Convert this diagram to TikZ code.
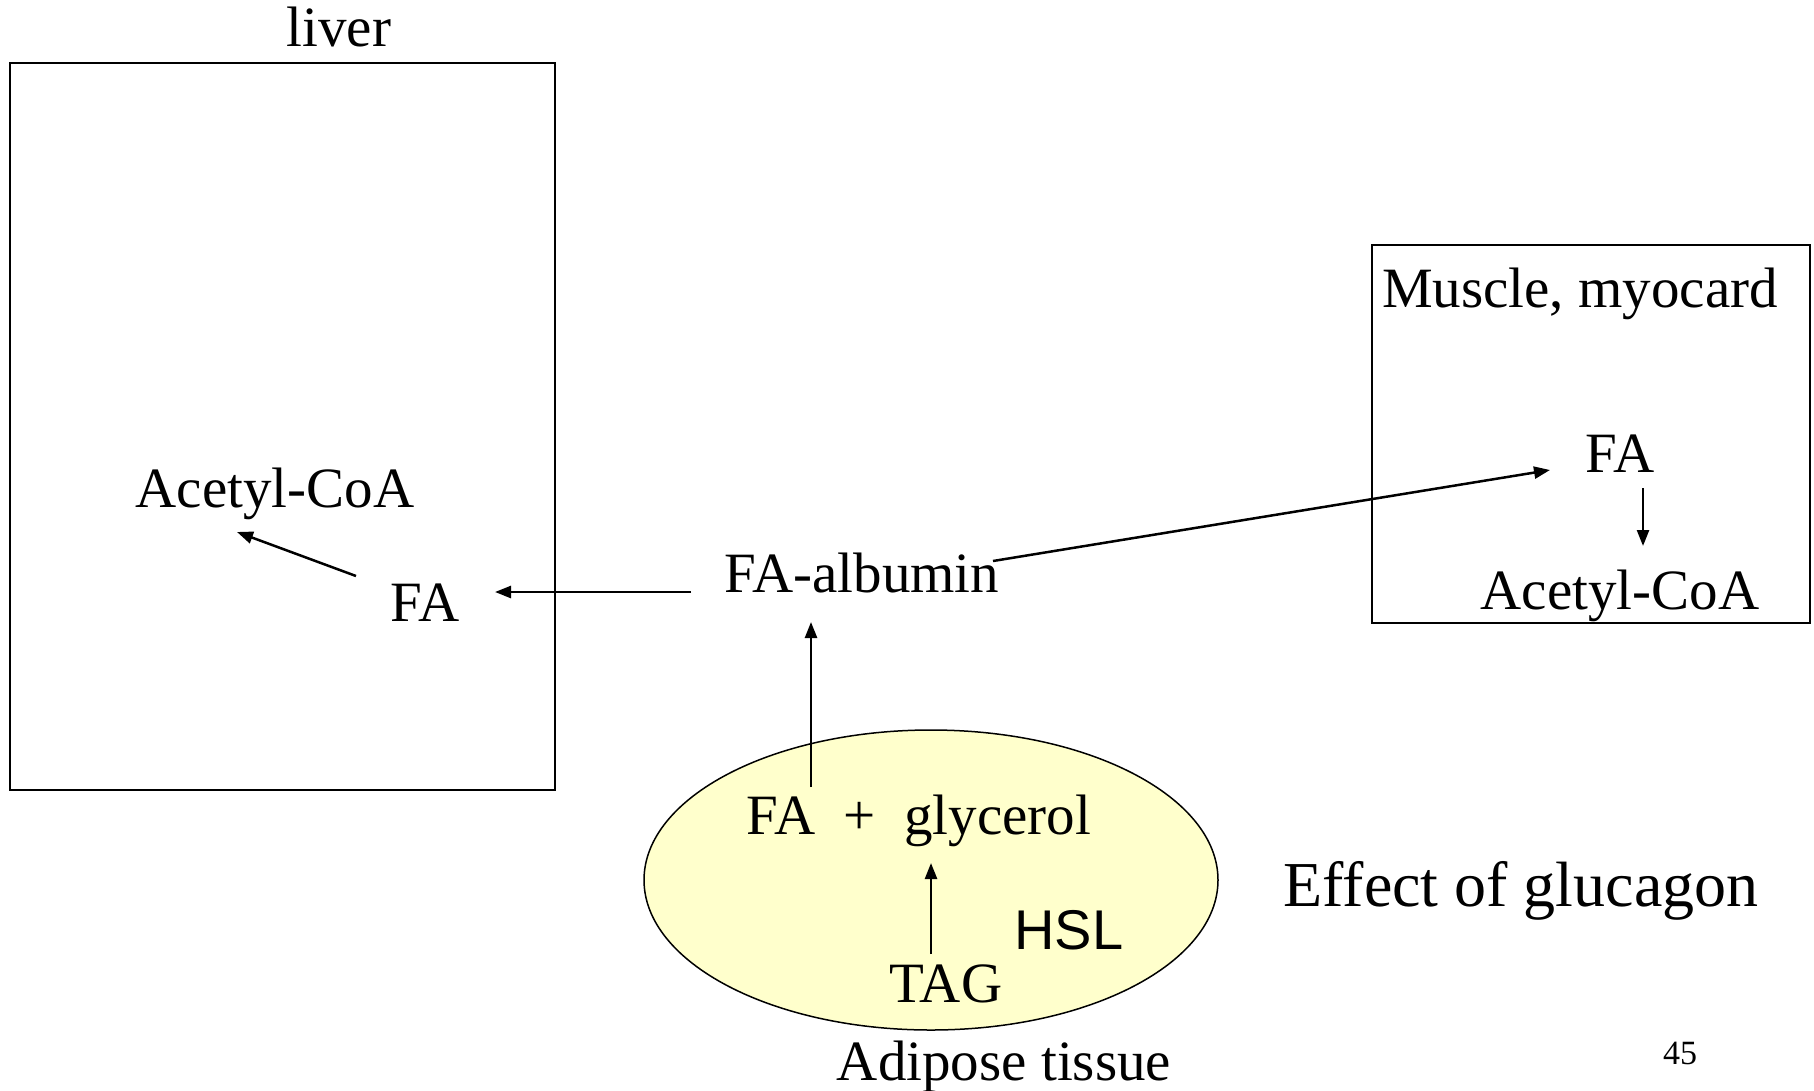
\documentclass[tikz,border=0pt]{standalone}
\usepackage{fontspec}
\setmainfont{Liberation Serif}
\setsansfont{Liberation Sans}
\usepackage{xcolor}
\usepackage{tikz}
\usetikzlibrary{arrows.meta, shapes.geometric}
\definecolor{adiposefill}{HTML}{FFFFCC}
\tikzset{
  organbox/.style={draw, line width=1.5pt, inner sep=0pt, anchor=north west},
  tissue/.style={draw, ellipse, line width=1.5pt, fill=adiposefill, inner sep=0pt},
  metabolite/.style={anchor=base, inner sep=0pt, font=\fontsize{57}{60}\selectfont},
  enzyme/.style={anchor=base, inner sep=0pt, font=\sffamily\fontsize{56}{60}\selectfont},
  titletext/.style={anchor=base, inner sep=0pt, font=\fontsize{64}{70}\selectfont},
  pagenum/.style={anchor=base, inner sep=0pt, font=\fontsize{34}{40}\selectfont}
}

\begin{document}
\begin{tikzpicture}[
  x=1pt, y=-1pt,
  arrow/.style={-{Triangle[length=16pt, width=12pt]}, line width=2.5pt}
]
\useasboundingbox (0,0) rectangle (1814,1090);

% Organs
\node[organbox, minimum width=545pt, minimum height=727pt] (liver) at (9,62) {};
\node[organbox, minimum width=438pt, minimum height=378pt] (muscle) at (1371,244) {};
\node[tissue, minimum width=574pt, minimum height=300pt] (adipose) at (931,880) {};

% Labels
\node[metabolite] (liverlbl) at (339,46) {liver};
\node[metabolite] (musclelbl) at (1580,307) {Muscle, myocard};
\node[metabolite] (adiposelbl) at (1004,1080) {Adipose tissue};
\node[titletext] (title) at (1521,906) {Effect of glucagon};
\node[pagenum] (page) at (1680,1064) {45};

% Metabolites
\node[metabolite] (liveracetyl) at (275,507) {Acetyl-CoA};
\node[metabolite] (liverfa) at (425,621) {FA};
\node[metabolite] (albumin) at (862,592) {FA-albumin};
\node[metabolite] (musclefa) at (1620,472) {FA};
\node[metabolite] (muscleacetyl) at (1620,609) {Acetyl-CoA};
\node[metabolite] (fagly) at (919,834) {FA\enspace+\enspace glycerol};
\node[metabolite] (tag) at (946,1002) {TAG};
\node[enzyme] (hsl) at (1069,949) {HSL};

% Arrows
\draw[arrow] ([shift={(-69,-45)}]liverfa.base) -- ([shift={(-38,25)}]liveracetyl.base);
\draw[arrow] ([shift={(-171,0)}]albumin.base) -- ([shift={(70,-29)}]liverfa.base);
\draw[arrow] ([shift={(131,-31)}]albumin.base) -- ([shift={(-70,-2)}]musclefa.base);
\draw[arrow] ([shift={(23,16)}]musclefa.base) -- ([shift={(23,-63)}]muscleacetyl.base);
\draw[arrow] ([shift={(-108,-47)}]fagly.base) -- ([shift={(-51,30)}]albumin.base);
\draw[arrow] ([shift={(-15,-48)}]tag.base) -- ([shift={(12,29)}]fagly.base);

\end{tikzpicture}
\end{document}
